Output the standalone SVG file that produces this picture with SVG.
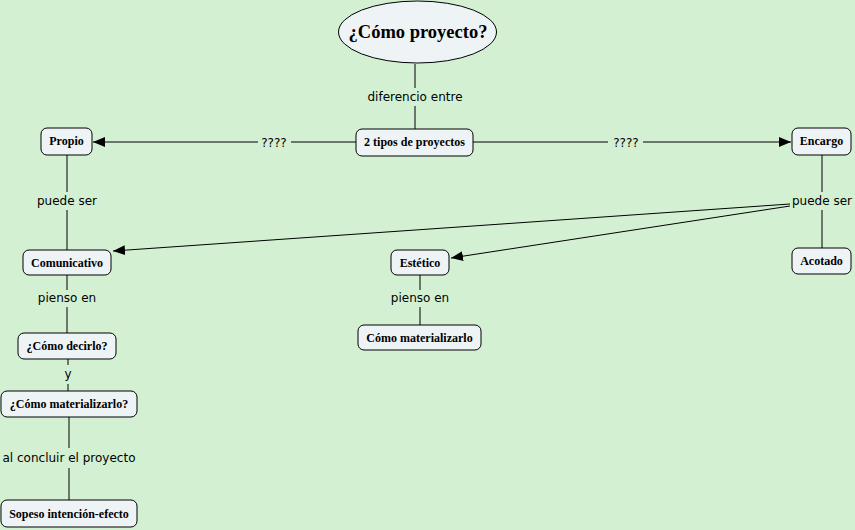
<svg xmlns="http://www.w3.org/2000/svg" width="855" height="530" viewBox="0 0 855 530">
<defs>
<marker id="arr" viewBox="0 0 12 10" refX="12" refY="5" markerWidth="12" markerHeight="10" markerUnits="userSpaceOnUse" orient="auto">
<path d="M0,0 L12,5 L0,10 Z" fill="#000"/>
</marker>
<style>
.n{fill:#eef3f6;stroke:#000;stroke-width:1}
.t{font-family:"Liberation Serif","Times New Roman",serif;font-weight:bold;font-size:12px;fill:#000;text-anchor:middle}
.l{font-family:"DejaVu Sans",Verdana,sans-serif;font-size:12px;fill:#000;text-anchor:middle}
.c{stroke:#000;stroke-width:1;fill:none}
</style>
</defs>
<rect width="855" height="530" fill="#d3f0d3"/>
<g id="connectors">
<line class="c" x1="415" y1="64" x2="415" y2="88"/>
<text class="l" x="415" y="101">diferencio entre</text>
<line class="c" x1="415" y1="106" x2="415" y2="129"/>
<line class="c" x1="356" y1="142" x2="291" y2="142"/>
<text class="l" x="274" y="147">????</text>
<line class="c" x1="258" y1="142" x2="93" y2="142" marker-end="url(#arr)"/>
<line class="c" x1="473" y1="142" x2="608" y2="142"/>
<text class="l" x="626" y="147">????</text>
<line class="c" x1="643" y1="142" x2="791" y2="142" marker-end="url(#arr)"/>
<line class="c" x1="67" y1="155" x2="67" y2="192"/>
<text class="l" x="67" y="205">puede ser</text>
<line class="c" x1="67" y1="210" x2="67" y2="250"/>
<line class="c" x1="822" y1="155" x2="822" y2="192"/>
<text class="l" x="822" y="205">puede ser</text>
<line class="c" x1="822" y1="210" x2="822" y2="248"/>
<line class="c" x1="790" y1="204" x2="113" y2="251" marker-end="url(#arr)"/>
<line class="c" x1="790" y1="206" x2="451" y2="258" marker-end="url(#arr)"/>
<line class="c" x1="67" y1="275" x2="67" y2="290"/>
<text class="l" x="67" y="302">pienso en</text>
<line class="c" x1="67" y1="307" x2="67" y2="333"/>
<line class="c" x1="420" y1="275" x2="420" y2="290"/>
<text class="l" x="420" y="302">pienso en</text>
<line class="c" x1="420" y1="307" x2="420" y2="325"/>
<line class="c" x1="68" y1="359" x2="68" y2="365"/>
<text class="l" x="68" y="378">y</text>
<line class="c" x1="68" y1="384" x2="68" y2="391"/>
<line class="c" x1="69" y1="417" x2="69" y2="448"/>
<text class="l" x="69" y="462">al concluir el proyecto</text>
<line class="c" x1="69" y1="468" x2="69" y2="500"/>
</g>
<g id="como-proyecto">
<ellipse class="n" cx="417.5" cy="32" rx="79" ry="31"/>
<text class="t" x="418" y="38" style="font-size:18.5px">¿Cómo proyecto?</text>
</g>
<g id="dos-tipos">
<rect class="n" x="356" y="129" width="117" height="27" rx="6"/>
<text class="t" x="414.5" y="146">2 tipos de proyectos</text>
</g>
<g id="propio">
<rect class="n" x="41" y="128" width="51" height="27" rx="6"/>
<text class="t" x="66.5" y="145">Propio</text>
</g>
<g id="encargo">
<rect class="n" x="792" y="128" width="59" height="27" rx="6"/>
<text class="t" x="821.5" y="145">Encargo</text>
</g>
<g id="comunicativo">
<rect class="n" x="23" y="250" width="88" height="25" rx="6"/>
<text class="t" x="67" y="266.5">Comunicativo</text>
</g>
<g id="estetico">
<rect class="n" x="391" y="250" width="58" height="25" rx="6"/>
<text class="t" x="420" y="266.5">Estético</text>
</g>
<g id="acotado">
<rect class="n" x="792" y="248" width="59" height="26" rx="6"/>
<text class="t" x="821.5" y="265">Acotado</text>
</g>
<g id="como-materializarlo">
<rect class="n" x="358" y="325" width="123" height="25" rx="6"/>
<text class="t" x="419.5" y="341.5">Cómo materializarlo</text>
</g>
<g id="como-decirlo">
<rect class="n" x="18" y="333" width="98" height="26" rx="6"/>
<text class="t" x="67" y="350">¿Cómo decirlo?</text>
</g>
<g id="como-materializarlo-q">
<rect class="n" x="1" y="391" width="136" height="26" rx="6"/>
<text class="t" x="69" y="408">¿Cómo materializarlo?</text>
</g>
<g id="sopeso">
<rect class="n" x="1" y="500" width="136" height="27" rx="6"/>
<text class="t" x="69" y="517.5">Sopeso intención-efecto</text>
</g>
</svg>
